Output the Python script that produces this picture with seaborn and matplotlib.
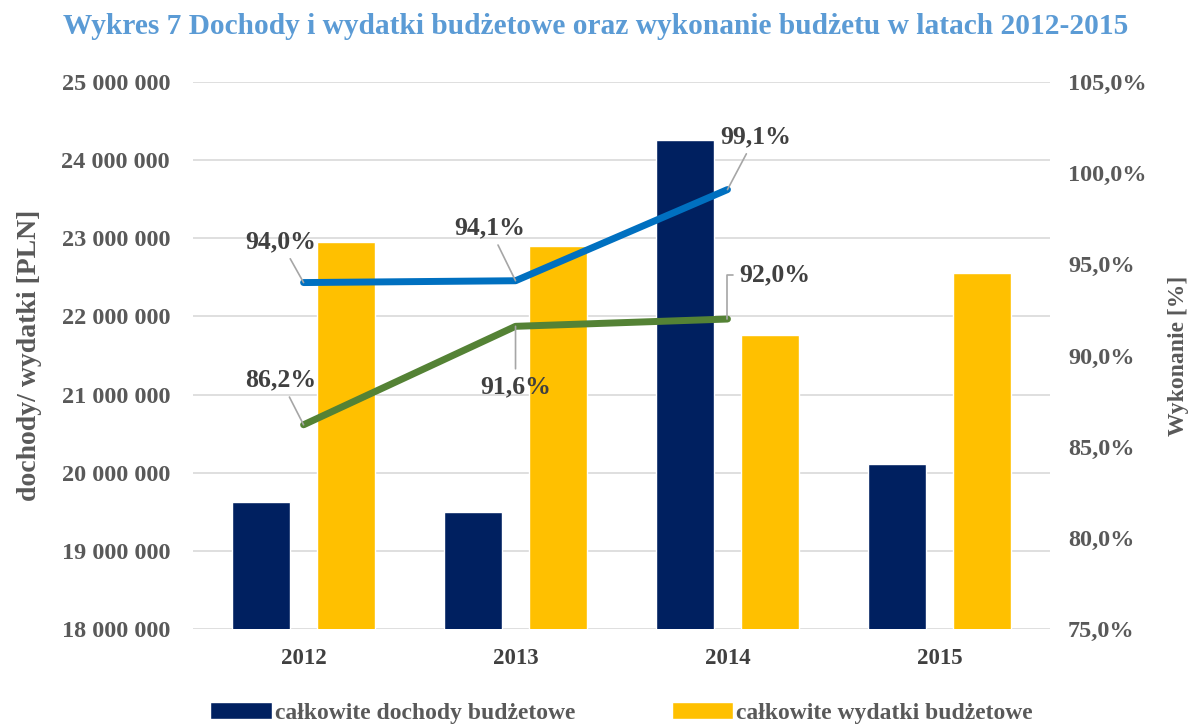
import matplotlib
matplotlib.use("Agg")
import matplotlib.pyplot as plt
import seaborn as sns
import pandas as pd

years = ["2012", "2013", "2014", "2015"]
dochody = [19625000, 19500000, 24260000, 20110000]
wydatki = [22950000, 22900000, 21760000, 22560000]
wyk_blue = [94.0, 94.1, 99.1]
wyk_green = [86.2, 91.6, 92.0]
series_names = ["całkowite dochody budżetowe", "całkowite wydatki budżetowe"]

sns.set_theme(style="white")
plt.rcParams["font.family"] = ["Liberation Serif", "DejaVu Serif"]
plt.rcParams["font.weight"] = "bold"
plt.rcParams["axes.labelweight"] = "bold"

df = pd.DataFrame({
    "rok": years * 2,
    "wartosc": dochody + wydatki,
    "seria": [series_names[0]] * 4 + [series_names[1]] * 4,
})

fig = plt.figure(figsize=(11.92, 7.25), dpi=100)
ax = fig.add_axes([193 / 1192, 1 - 629 / 725, (1050 - 193) / 1192, (629 - 82) / 725])

sns.barplot(data=df, x="rok", y="wartosc", hue="seria",
            palette=["#002060", "#FFC000"], width=0.8, gap=0.31,
            saturation=1, ax=ax, zorder=2)
ax.set_ylim(18000000, 25000000)
yt = list(range(18000000, 25000001, 1000000))
ax.set_yticks(yt, [f"{v:,}".replace(",", " ") for v in yt],
              fontweight="bold", fontsize=17.5, color="#595959")
ax.set_xticks(range(len(years)), years, fontweight="bold", fontsize=16.5, color="#404040")
ax.grid(axis="y", color="#D9D9D9", linewidth=1.2, zorder=0)
ax.set_axisbelow(True)
for s in ax.spines.values():
    s.set_visible(False)
ax.tick_params(axis="y", length=0, pad=16.5)
ax.tick_params(axis="x", length=0, pad=14)
ax.set_xlabel("")
ax.set_ylabel("dochody/ wydatki [PLN]", fontsize=20, color="#595959", labelpad=14,
              fontweight="bold")

ax2 = ax.twinx()
x_pos = [0, 1, 2]
sns.lineplot(x=x_pos, y=wyk_blue, ax=ax2, color="#0070C0", linewidth=5,
             solid_capstyle="round")
sns.lineplot(x=x_pos, y=wyk_green, ax=ax2, color="#548235", linewidth=5,
             solid_capstyle="round")
ax2.set_ylim(75, 105)
rt = list(range(75, 106, 5))
ax2.set_yticks(rt, [f"{v:.1f}%".replace(".", ",") for v in rt],
               fontweight="bold", fontsize=17.5, color="#595959")
for s in ax2.spines.values():
    s.set_visible(False)
ax2.tick_params(axis="y", length=0, pad=13)
ax2.set_ylabel("Wykonanie [%]", fontsize=17, color="#595959", labelpad=15,
               fontweight="bold")
ax2.grid(False)

offsets_blue = [(-23, 41), (-26, 53), (28, 53)]
offsets_green = [(-23, 45), (0, -60), (47, 44)]
conns_green = ["arc3", "arc3", "angle,angleA=0,angleB=90,rad=0"]
for i, v in enumerate(wyk_blue):
    ax2.annotate(f"{v:.1f}%".replace(".", ","), xy=(x_pos[i], v),
                 xytext=offsets_blue[i], textcoords="offset pixels",
                 ha="center", va="center", fontsize=18.5, color="#404040",
                 fontweight="bold",
                 arrowprops=dict(arrowstyle="-", color="#A6A6A6", lw=1.2,
                                 shrinkA=2, shrinkB=0))
for i, v in enumerate(wyk_green):
    ax2.annotate(f"{v:.1f}%".replace(".", ","), xy=(x_pos[i], v),
                 xytext=offsets_green[i], textcoords="offset pixels",
                 ha="center", va="center", fontsize=18.5, color="#404040",
                 fontweight="bold",
                 arrowprops=dict(arrowstyle="-", color="#A6A6A6", lw=1.2,
                                 shrinkA=2, shrinkB=0,
                                 connectionstyle=conns_green[i]))

handles, labels = ax.get_legend_handles_labels()
leg = ax.legend(handles, labels, loc="center", bbox_to_anchor=(0.5, -0.154),
                ncol=2, frameon=False, prop={"size": 17, "weight": "bold"},
                handlelength=2.6, handleheight=0.7, handletextpad=0.12,
                columnspacing=4.1)
for t in leg.get_texts():
    t.set_color("#595959")

fig.text(596 / 1192, 1 - 26 / 725,
         "Wykres 7 Dochody i wydatki budżetowe oraz wykonanie budżetu w latach 2012-2015",
         ha="center", va="center", fontsize=21.2, color="#5B9BD5", fontweight="bold")

fig.savefig("out.png", dpi=100)
